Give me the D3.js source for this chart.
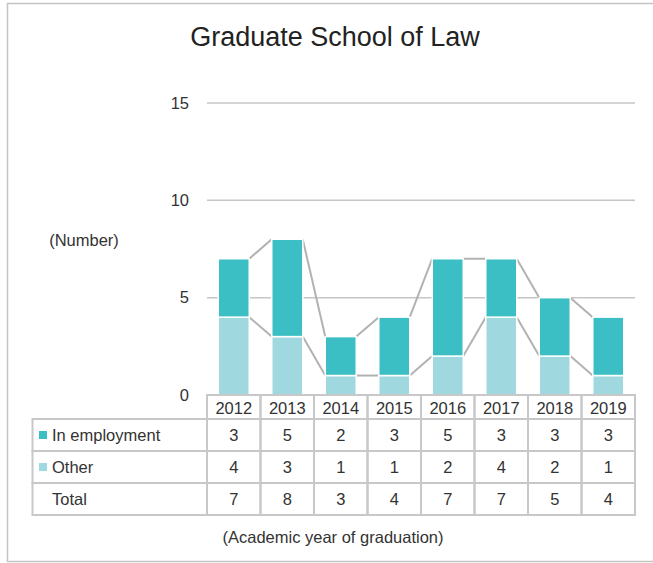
<!DOCTYPE html>
<html>
<head>
<meta charset="utf-8">
<script src="https://cdn.jsdelivr.net/npm/d3@7"></script>
<style>
  html, body { margin: 0; padding: 0; background: #fff; }
  svg { display: block; font-family: "Liberation Sans", Arial, sans-serif; }
</style>
</head>
<body>
<svg id="chart" width="653" height="563"></svg>
<script>
// Graduates of the Graduate School of Law by academic year of graduation
const years = ["2012", "2013", "2014", "2015", "2016", "2017", "2018", "2019"];
const inEmployment = [3, 5, 2, 3, 5, 3, 3, 3];
const other = [4, 3, 1, 1, 2, 4, 2, 1];
const total = [7, 8, 3, 4, 7, 7, 5, 4];
const yTicks = [0, 5, 10, 15];

const colors = { emp: "#3bbfc4", other: "#a0d8df", grid: "#c6c6c6", line: "#b2b2b2", text: "#333" };
const fs = 16.5;

const svg = d3.select("#chart");

// outer frame
svg.append("rect").attr("x", 7.5).attr("y", 3.5).attr("width", 660).attr("height", 558)
  .attr("fill", "none").attr("stroke", "#c4c4c4").attr("stroke-width", 1.5);

// title
svg.append("text").attr("x", 335).attr("y", 46).attr("text-anchor", "middle")
  .attr("font-size", 27).attr("fill", "#222").text("Graduate School of Law");

const left = 207, right = 635;
const x = d3.scaleBand().domain(years).range([left, right]).paddingInner(0).paddingOuter(0);
const y = d3.scaleLinear().domain([0, 15]).range([395, 103]);
const barW = 31;
const bx = d => x(d) + (x.bandwidth() - barW) / 2;

// gridlines (0 is covered by the table)
svg.append("g").selectAll("line").data(yTicks.filter(t => t > 0)).join("line")
  .attr("x1", left).attr("x2", right)
  .attr("y1", d => y(d)).attr("y2", d => y(d))
  .attr("stroke", colors.grid).attr("stroke-width", 1.5);

// y-axis labels
const yAxis = d3.axisLeft(y).tickValues(yTicks).tickSize(0).tickPadding(0);
const ya = svg.append("g").attr("transform", "translate(189,0)").call(yAxis);
ya.select(".domain").remove();
ya.selectAll("text").attr("font-size", fs).attr("fill", colors.text)
  .attr("font-family", "Liberation Sans, Arial, sans-serif");

svg.append("text").attr("x", 84).attr("y", 246).attr("text-anchor", "middle")
  .attr("font-size", fs).attr("fill", colors.text).text("(Number)");

// stacked data
const rows = years.map((yr, i) => ({ year: yr, emp: inEmployment[i], other: other[i] }));
const stack = d3.stack().keys(["other", "emp"])(rows);

// series connector lines between adjacent bars
stack.forEach(layer => {
  const segs = [];
  for (let i = 0; i < years.length - 1; i++) {
    segs.push({ x1: bx(years[i]) + barW, y1: y(layer[i][1]), x2: bx(years[i + 1]), y2: y(layer[i + 1][1]) });
  }
  svg.append("g").selectAll("line").data(segs).join("line")
    .attr("x1", d => d.x1).attr("y1", d => d.y1).attr("x2", d => d.x2).attr("y2", d => d.y2)
    .attr("stroke", colors.line).attr("stroke-width", 2);
});

// bars
svg.append("g").selectAll("g").data(stack).join("g")
  .attr("fill", d => d.key === "emp" ? colors.emp : colors.other)
  .selectAll("rect").data(d => d).join("rect")
  .attr("x", d => bx(d.data.year))
  .attr("y", d => y(d[1]))
  .attr("width", barW)
  .attr("height", d => y(d[0]) - y(d[1]))
  .attr("stroke", "#fff").attr("stroke-width", 1.5);

// data table
const tableLeft = 32.5;
const hTop = 395, hBot = 419, rowH = 32;
const tbl = svg.append("g");
const gridStroke = { stroke: "#c8c8c8", "stroke-width": 2 };

// header row (years)
years.forEach(yr => {
  tbl.append("rect").attr("x", x(yr)).attr("y", hTop).attr("width", x.bandwidth()).attr("height", hBot - hTop)
    .attr("fill", "none").attr("stroke", gridStroke.stroke).attr("stroke-width", gridStroke["stroke-width"]);
  tbl.append("text").attr("x", x(yr) + x.bandwidth() / 2).attr("y", hBot - 5)
    .attr("text-anchor", "middle").attr("font-size", fs).attr("fill", colors.text).text(yr);
});

const tableRows = [
  { label: "In employment", values: inEmployment, key: colors.emp },
  { label: "Other", values: other, key: colors.other },
  { label: "Total", values: total, key: null }
];

tableRows.forEach((r, ri) => {
  const top = hBot + ri * rowH;
  tbl.append("rect").attr("x", tableLeft).attr("y", top).attr("width", left - tableLeft).attr("height", rowH)
    .attr("fill", "none").attr("stroke", gridStroke.stroke).attr("stroke-width", gridStroke["stroke-width"]);
  if (r.key) {
    tbl.append("rect").attr("x", 39).attr("y", top + 12).attr("width", 8).attr("height", 8).attr("fill", r.key);
  }
  tbl.append("text").attr("x", 52).attr("y", top + 21.5).attr("font-size", fs).attr("fill", colors.text).text(r.label);
  years.forEach((yr, i) => {
    tbl.append("rect").attr("x", x(yr)).attr("y", top).attr("width", x.bandwidth()).attr("height", rowH)
      .attr("fill", "none").attr("stroke", gridStroke.stroke).attr("stroke-width", gridStroke["stroke-width"]);
    tbl.append("text").attr("x", x(yr) + x.bandwidth() / 2).attr("y", top + 21.5)
      .attr("text-anchor", "middle").attr("font-size", fs).attr("fill", colors.text).text(r.values[i]);
  });
});

svg.append("text").attr("x", 333).attr("y", 543).attr("text-anchor", "middle")
  .attr("font-size", fs).attr("fill", colors.text).text("(Academic year of graduation)");
</script>
</body>
</html>
